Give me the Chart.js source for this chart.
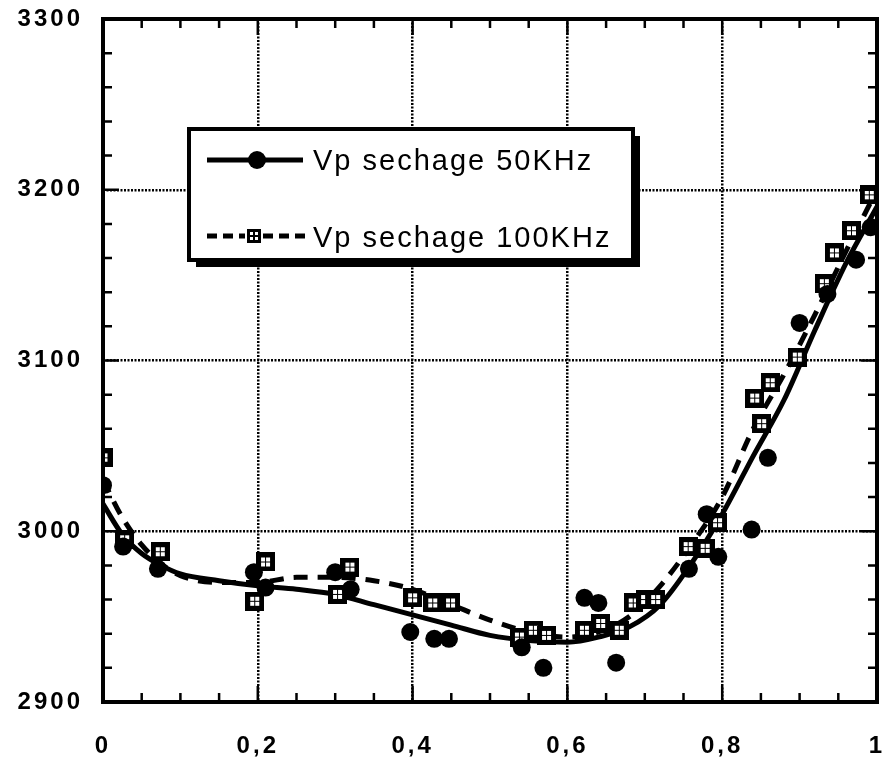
<!DOCTYPE html>
<html>
<head>
<meta charset="utf-8">
<script src="https://cdn.jsdelivr.net/npm/chart.js@4.4.0/dist/chart.umd.min.js"></script>
<style>
  html, body { margin: 0; padding: 0; background: #fff; }
  canvas { display: block; }
</style>
</head>
<body>
<canvas id="vpChart" width="887" height="765"></canvas>
<script>
// measured points, 50 KHz (circles)
const x50 = [0, 0.026, 0.071, 0.195, 0.21, 0.3, 0.32, 0.397, 0.428, 0.447, 0.541, 0.569, 0.622, 0.64, 0.663, 0.757, 0.78, 0.795, 0.838, 0.859, 0.9, 0.936, 0.973, 0.992];
const v50 = [3027, 2991, 2978, 2976, 2967, 2976, 2966, 2941, 2937, 2937, 2932, 2920, 2961, 2958, 2923, 2978, 3010, 2985, 3001, 3043, 3122, 3139, 3159, 3178];

// measured points, 100 KHz (squares)
const x100 = [0, 0.028, 0.074, 0.196, 0.21, 0.303, 0.319, 0.4, 0.426, 0.449, 0.538, 0.556, 0.573, 0.622, 0.643, 0.667, 0.685, 0.701, 0.714, 0.756, 0.778, 0.794, 0.842, 0.851, 0.862, 0.897, 0.932, 0.945, 0.967, 0.99];
const v100 = [3043, 2995, 2988, 2959, 2982, 2963, 2979, 2961, 2958, 2958, 2938, 2942, 2939, 2942, 2946, 2942, 2958, 2960, 2960, 2991, 2990, 3005, 3078, 3063, 3087, 3102, 3145, 3163, 3176, 3197];

// fitted curves
const fitX = [0, 0.025, 0.05, 0.075, 0.1, 0.15, 0.2, 0.25, 0.3, 0.35, 0.4, 0.45, 0.5, 0.55, 0.6, 0.64, 0.68, 0.72, 0.76, 0.8, 0.84, 0.88, 0.92, 0.96, 1];
const fit50 = [3016, 2998, 2987, 2980, 2975, 2971, 2968, 2966, 2963, 2957, 2951, 2945, 2939, 2936, 2935, 2938, 2944, 2957, 2981, 3010, 3044, 3077, 3118, 3157, 3190];
const fit100 = [3030, 3008, 2992, 2981, 2974, 2970, 2970, 2973, 2973, 2971, 2966, 2957, 2948, 2941, 2938, 2941, 2950, 2968, 2992, 3020, 3060, 3092, 3127, 3164, 3200];

const xTicks = [0, 0.2, 0.4, 0.6, 0.8, 1];
const xTickLabels = ['0', '0,2', '0,4', '0,6', '0,8', '1'];
const yTicks = [2900, 3000, 3100, 3200, 3300];
const yTickLabels = ['2900', '3000', '3100', '3200', '3300'];

const seriesLabels = ['Vp sechage 50KHz', 'Vp sechage 100KHz'];

const pts = (xs, ys) => xs.map((x, i) => ({ x: x, y: ys[i] }));
const findMajor = (list, v, eps) => list.findIndex(t => Math.abs(t - v) < eps);

// square marker with four small white holes
function makeSquare(size) {
    const c = document.createElement('canvas');
    c.width = size; c.height = size;
    const g = c.getContext('2d');
    g.fillStyle = '#000';
    g.fillRect(0, 0, size, size);
    g.fillStyle = '#fff';
    const h = Math.max(2, Math.round(size * 0.2));
    const a = Math.round(size * 0.24);
    const b = size - a - h;
    g.fillRect(a, a, h, h); g.fillRect(b, a, h, h);
    g.fillRect(a, b, h, h); g.fillRect(b, b, h, h);
    return c;
}
const squareMark = makeSquare(19);
const squareSmall = makeSquare(14);

// inner ticks + heavy frame
const framePlugin = {
    id: 'framePlugin',
    beforeDraw(chart) {
        chart.ctx.letterSpacing = '3px';
    },
    afterDatasetsDraw(chart) {
        const { ctx, chartArea: a, scales } = chart;
        ctx.save();
        ctx.strokeStyle = '#000';
        ctx.lineWidth = 2.5;
        scales.x.ticks.forEach(t => {
            const px = scales.x.getPixelForValue(t.value);
            const len = findMajor(xTicks, t.value, 1e-6) >= 0 ? 16 : 9;
            ctx.beginPath();
            ctx.moveTo(px, a.bottom); ctx.lineTo(px, a.bottom - len);
            ctx.moveTo(px, a.top); ctx.lineTo(px, a.top + len);
            ctx.stroke();
        });
        scales.y.ticks.forEach(t => {
            const py = scales.y.getPixelForValue(t.value);
            const len = findMajor(yTicks, t.value, 1e-6) >= 0 ? 16 : 9;
            ctx.beginPath();
            ctx.moveTo(a.left, py); ctx.lineTo(a.left + len, py);
            ctx.moveTo(a.right, py); ctx.lineTo(a.right - len, py);
            ctx.stroke();
        });
        ctx.lineWidth = 4;
        ctx.strokeRect(a.left, a.top, a.right - a.left, a.bottom - a.top);
        ctx.restore();
    }
};

// boxed legend with drop shadow
const legendPlugin = {
    id: 'legendPlugin',
    afterDraw(chart) {
        const ctx = chart.ctx;
        const L = 189, T = 129, W = 444, H = 131;
        ctx.save();
        ctx.letterSpacing = '0px';
        ctx.fillStyle = '#000';
        ctx.fillRect(L + 7, T + 7, W, H);
        ctx.fillStyle = '#fff';
        ctx.fillRect(L, T, W, H);
        ctx.lineWidth = 4;
        ctx.strokeStyle = '#000';
        ctx.strokeRect(L, T, W, H);

        // row 1: solid line + circle
        ctx.lineWidth = 5;
        ctx.beginPath();
        ctx.moveTo(207, 160); ctx.lineTo(303, 160);
        ctx.stroke();
        ctx.fillStyle = '#000';
        ctx.beginPath();
        ctx.arc(257, 160, 9, 0, Math.PI * 2);
        ctx.fill();

        // row 2: dashed line + square
        ctx.setLineDash([10, 6]);
        ctx.beginPath();
        ctx.moveTo(207, 236); ctx.lineTo(245, 236);
        ctx.moveTo(263, 236); ctx.lineTo(305, 236);
        ctx.stroke();
        ctx.setLineDash([]);
        ctx.drawImage(squareSmall, 247, 229);

        ctx.letterSpacing = '2px';
        ctx.font = '500 29px "Liberation Sans", Arial, sans-serif';
        ctx.textAlign = 'left';
        ctx.textBaseline = 'alphabetic';
        ctx.fillText(chart.data.datasets[0].label, 313, 170);
        ctx.fillText(chart.data.datasets[1].label, 313, 247);
        ctx.restore();
    }
};

const tickFont = { family: '"Liberation Sans", Arial, sans-serif', size: 24, weight: 'bold' };

new Chart(document.getElementById('vpChart'), {
    type: 'scatter',
    data: {
        datasets: [
            {
                label: seriesLabels[0],
                data: pts(x50, v50),
                showLine: false,
                pointStyle: 'circle',
                pointRadius: 9,
                pointBackgroundColor: '#000',
                pointBorderWidth: 0,
                order: 1
            },
            {
                label: seriesLabels[1],
                data: pts(x100, v100),
                showLine: false,
                pointStyle: squareMark,
                pointRadius: 9,
                order: 2
            },
            {
                label: 'fit50',
                data: pts(fitX, fit50),
                showLine: true,
                borderColor: '#000',
                borderWidth: 5,
                pointRadius: 0,
                cubicInterpolationMode: 'monotone',
                order: 3
            },
            {
                label: 'fit100',
                data: pts(fitX, fit100),
                showLine: true,
                borderColor: '#000',
                borderWidth: 5,
                borderDash: [14, 10],
                pointRadius: 0,
                cubicInterpolationMode: 'monotone',
                order: 4
            }
        ]
    },
    options: {
        responsive: false,
        animation: false,
        devicePixelRatio: 1,
        layout: { padding: { left: 0, right: 6, top: 19, bottom: 0 } },
        plugins: {
            legend: { display: false },
            tooltip: { enabled: false }
        },
        scales: {
            x: {
                type: 'linear',
                min: 0,
                max: 1,
                afterFit: s => { s.height = 63; s.paddingLeft = 0; s.paddingRight = 0; },
                ticks: {
                    stepSize: 0.05,
                    autoSkip: false,
                    maxRotation: 0,
                    padding: 30,
                    color: '#000',
                    font: tickFont,
                    callback: v => {
                        const i = findMajor(xTicks, v, 1e-6);
                        return i >= 0 ? xTickLabels[i] : '';
                    }
                },
                grid: {
                    drawTicks: false,
                    lineWidth: 2.5,
                    color: c => {
                        const v = c.tick ? c.tick.value : 0;
                        const i = findMajor(xTicks, v, 1e-6);
                        return (i > 0 && i < xTicks.length - 1) ? '#000' : 'rgba(0,0,0,0)';
                    }
                },
                border: { display: false, dash: [2, 1.5] }
            },
            y: {
                type: 'linear',
                min: 2900,
                max: 3300,
                afterFit: s => { s.width = 103; s.paddingTop = 0; s.paddingBottom = 0; },
                ticks: {
                    stepSize: 20,
                    autoSkip: false,
                    padding: 20,
                    color: '#000',
                    font: tickFont,
                    callback: v => {
                        const i = findMajor(yTicks, v, 1e-6);
                        return i >= 0 ? yTickLabels[i] : '';
                    }
                },
                grid: {
                    drawTicks: false,
                    lineWidth: 2.5,
                    color: c => {
                        const v = c.tick ? c.tick.value : 0;
                        const i = findMajor(yTicks, v, 1e-6);
                        return (i > 0 && i < yTicks.length - 1) ? '#000' : 'rgba(0,0,0,0)';
                    }
                },
                border: { display: false, dash: [2, 1.5] }
            }
        }
    },
    plugins: [framePlugin, legendPlugin]
});
</script>
</body>
</html>
